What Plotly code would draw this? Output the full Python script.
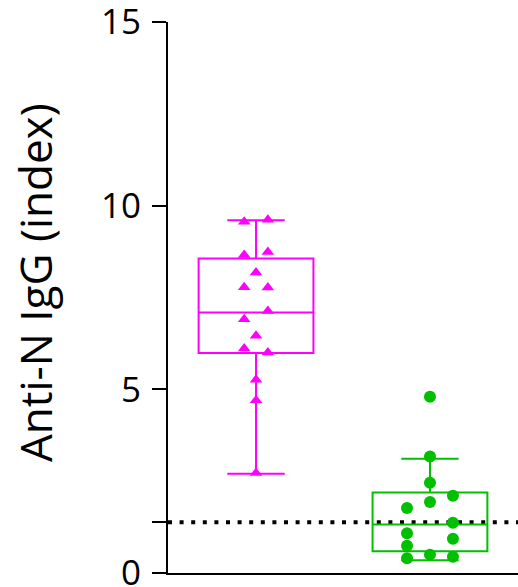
import plotly.graph_objects as go

# ---- data ----
groups = ["Group A", "Group B"]
colors = ["#FF00FF", "#00C000"]

magenta_values = [9.56, 9.62, 8.66, 8.74, 8.18, 7.78, 7.77, 7.13, 6.91, 6.46, 6.11, 6.00, 5.26, 4.70, 2.72]
magenta_cols   = [-1, 1, -1, 1, 0, -1, 1, 1, -1, 0, -1, 1, 0, 0, 0]

green_values = [4.80, 3.17, 2.46, 2.10, 1.93, 1.77, 1.37, 1.08, 0.93, 0.74, 0.50, 0.44, 0.40]
green_cols   = [0, 0, 0, 1, 0, -1, 1, -1, 1, -1, 0, 1, -1]

# box statistics (as drawn in the reference)
box_q1 = [5.99, 0.59]
box_median = [7.09, 1.32]
box_q3 = [8.56, 2.19]
box_lower = [2.70, 0.35]
box_upper = [9.60, 3.11]

threshold = 1.38

y_ticks = [0, 5, 10, 15]
y_title = "Anti-N IgG (index)"

# ---- styling ----
W, H = 518, 587
L, R, T, B = 168, 0, 22, 14
spreads = [0.068, 0.132]
markers = [dict(symbol="triangle-up", size=11), dict(symbol="circle", size=12)]

fig = go.Figure()

for i in range(2):
    fig.add_trace(go.Box(
        x=[i], q1=[box_q1[i]], median=[box_median[i]], q3=[box_q3[i]],
        lowerfence=[box_lower[i]], upperfence=[box_upper[i]],
        width=0.66, whiskerwidth=0.5,
        line=dict(color=colors[i], width=2),
        fillcolor="rgba(255,255,255,0)",
        boxpoints=False, showlegend=False, name=groups[i],
    ))

for i, (vals, cols) in enumerate([(magenta_values, magenta_cols), (green_values, green_cols)]):
    fig.add_trace(go.Scatter(
        x=[i + c * spreads[i] for c in cols], y=vals, mode="markers",
        marker=dict(color=colors[i], line=dict(width=0), **markers[i]),
        showlegend=False, name=groups[i],
    ))

fig.add_shape(type="line", xref="paper", x0=0, x1=1, yref="y", y0=threshold, y1=threshold,
              line=dict(color="black", width=4, dash="4px,7.6px"), layer="below")

fig.add_annotation(text=y_title, textangle=-90, xref="paper", yref="paper",
                   x=(35 - L) / (W - L - R), y=(573 - 283) / (H - T - B),
                   xanchor="center", yanchor="middle", showarrow=False,
                   font=dict(family="Open Sans", size=44, color="black"))

fig.update_layout(
    width=W, height=H, margin=dict(l=L, r=R, t=T, b=B, pad=0, autoexpand=False),
    paper_bgcolor="white", plot_bgcolor="white",
    xaxis=dict(range=[-0.506, 1.506], showgrid=False, zeroline=False, showline=True,
               linecolor="black", linewidth=2, ticks="", showticklabels=False,
               fixedrange=True, automargin=False),
    yaxis=dict(range=[y_ticks[0], y_ticks[-1]], showgrid=False, zeroline=False,
               showline=True, linecolor="black", linewidth=2, ticks="outside", ticklen=14,
               tickwidth=2, tickcolor="black", automargin=False,
               tickvals=[0, threshold] + y_ticks[1:],
               ticktext=["0", ""] + [str(t) for t in y_ticks[1:]],
               tickfont=dict(family="Open Sans", size=35, color="black"),
               ticklabelstandoff=4, ticklabeloverflow="allow"),
)

fig.write_html("out.html")
